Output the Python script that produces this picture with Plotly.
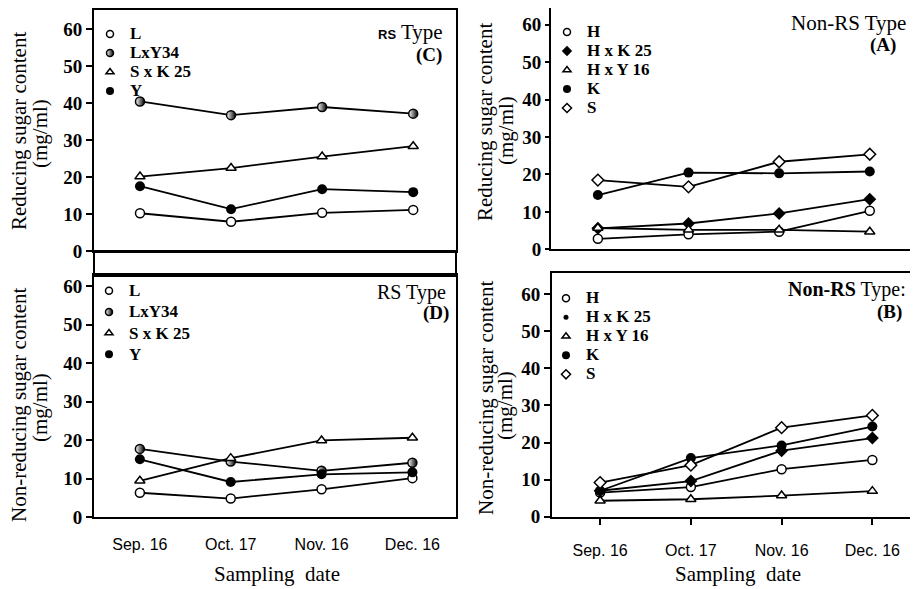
import plotly.graph_objects as go

# the page has an 8px body margin, so the figure is sized to fill the rest of the window
OFF = 8
W, H = 918 - OFF, 589 - OFF

dates = ["Sep. 16", "Oct. 17", "Nov. 16", "Dec. 16"]
y_ticks = [0, 10, 20, 30, 40, 50, 60]

# Panel C: reducing sugar, RS type
c_names = ["L", "LxY34", "S x K 25", "Y"]
c_L = [10.2, 7.9, 10.3, 11.1]
c_LxY34 = [40.4, 36.7, 38.9, 37.1]
c_SxK25 = [20.1, 22.4, 25.5, 28.3]
c_Y = [17.5, 11.3, 16.7, 15.9]

# Panel A: reducing sugar, Non-RS type
a_names = ["H", "H x K 25", "H x Y 16", "K", "S"]
a_H = [2.8, 4.0, 4.7, 10.3]
a_HxK25 = [5.6, 6.9, 9.6, 13.4]
a_HxY16 = [5.7, 5.2, 5.2, 4.7]
a_K = [14.5, 20.5, 20.3, 20.8]
a_S = [18.5, 16.7, 23.4, 25.4]

# Panel D: non-reducing sugar, RS type
d_names = ["L", "LxY34", "S x K 25", "Y"]
d_L = [6.3, 4.8, 7.2, 10.1]
d_LxY34 = [17.7, 14.4, 12.0, 14.1]
d_SxK25 = [9.4, 15.3, 19.9, 20.6]
d_Y = [15.0, 9.1, 11.1, 11.6]

# Panel B: non-reducing sugar, Non-RS type
b_names = ["H", "H x K 25", "H x Y 16", "K", "S"]
b_H = [6.5, 8.0, 12.8, 15.3]
b_HxK25 = [7.0, 9.6, 17.8, 21.2]
b_HxY16 = [4.3, 4.7, 5.7, 6.9]
b_K = [7.0, 15.8, 19.2, 24.3]
b_S = [9.2, 13.9, 24.0, 27.3]

SERIF = "Liberation Serif"
LW = 1.8


def mk(kind, size):
    ln = dict(color="black", width=1.5)
    if kind == "oc":
        return dict(symbol="circle", color="white", size=size, line=ln)
    if kind == "half":
        return dict(symbol="circle", color="white", size=size, line=ln,
                    gradient=dict(type="horizontal", color="black"))
    if kind == "tri":
        return dict(symbol="triangle-up", color="white", size=size, line=ln)
    if kind == "fc":
        return dict(symbol="circle", color="black", size=size + 1, line=dict(color="black", width=0))
    if kind == "fd":
        return dict(symbol="diamond", color="black", size=size + 1, line=dict(color="black", width=0))
    if kind == "od":
        return dict(symbol="diamond", color="white", size=size, line=ln)
    if kind == "dot":
        return dict(symbol="circle", color="black", size=size - 2, line=dict(color="black", width=0))


panels = [
    ("x", "y", "legend", c_names, [c_L, c_LxY34, c_SxK25, c_Y],
     ["oc", "half", "tri", "fc"], ["oc", "half", "tri", "fc"]),
    ("x2", "y2", "legend2", a_names, [a_H, a_HxK25, a_HxY16, a_K, a_S],
     ["oc", "fd", "tri", "fc", "od"], ["oc", "fd", "tri", "fc", "od"]),
    ("x3", "y3", "legend3", d_names, [d_L, d_LxY34, d_SxK25, d_Y],
     ["oc", "half", "tri", "fc"], ["oc", "half", "tri", "fc"]),
    ("x4", "y4", "legend4", b_names, [b_H, b_HxK25, b_HxY16, b_K, b_S],
     ["oc", "fd", "tri", "fc", "od"], ["oc", "dot", "tri", "fc", "od"]),
]

fig = go.Figure()

for xa, ya, lg, names, series, kinds, lkinds in panels:
    for name, vals, kind in zip(names, series, kinds):
        fig.add_trace(go.Scatter(
            x=dates, y=vals, mode="lines+markers", xaxis=xa, yaxis=ya,
            line=dict(color="black", width=LW), marker=mk(kind, 9),
            showlegend=False, name=name))
    for name, lkind in zip(names, lkinds):
        fig.add_trace(go.Scatter(
            x=[None], y=[None], mode="markers", xaxis=xa, yaxis=ya,
            marker=mk(lkind, 7), legend=lg, showlegend=True,
            name='<span style="font-size:17px">%s</span>' % name))


def px(x):
    return (x - OFF) / W


def py(y):
    return 1 - (y - OFF) / H


def yax(dom, rng, ticklen):
    return dict(domain=[py(dom[1]), py(dom[0])], range=rng, tickvals=y_ticks,
                ticks="outside", ticklen=ticklen, tickwidth=1.5, tickcolor="black",
                showline=True, linecolor="black", linewidth=2, mirror=True,
                showgrid=False, zeroline=False, automargin=False,
                tickfont=dict(family=SERIF, size=19, color="black", weight="bold"))


def xax(dom, rng, ticks, labels):
    return dict(domain=[px(dom[0]), px(dom[1])], type="category", range=rng,
                ticks=ticks, ticklen=6, tickwidth=1.5, tickcolor="black",
                showline=True, linecolor="black", linewidth=2, mirror=True,
                showgrid=False, zeroline=False, showticklabels=labels,
                ticklabelstandoff=12, automargin=False,
                tickfont=dict(family="Liberation Sans Narrow, Liberation Sans", size=16, color="black"))


fig.update_layout(
    width=W, height=H, margin=dict(l=0, r=0, t=0, b=0, autoexpand=False),
    paper_bgcolor="white", plot_bgcolor="white",
    xaxis=xax((94, 456), [-0.505, 3.47], "", False),
    yaxis=yax((10, 251), [0, 65.1], 6),
    xaxis2=dict(xax((551, 916), [-0.517, 3.51], "", False), anchor="y2"),
    yaxis2=dict(yax((8, 249.3), [0, 64.5], 4), anchor="x2"),
    xaxis3=dict(xax((94, 456), [-0.505, 3.48], "", True), anchor="y3"),
    yaxis3=dict(yax((275, 517), [0, 62.9], 6), anchor="x3"),
    xaxis4=dict(xax((552, 915), [-0.53, 3.47], "outside", True), anchor="y4"),
    yaxis4=dict(yax((273, 516.7), [0, 65.7], 6), anchor="x4"),
)


def legend(x, top, fs):
    return dict(x=px(x), y=py(top), xanchor="left", yanchor="top",
                bgcolor="rgba(0,0,0,0)", borderwidth=0, traceorder="normal",
                font=dict(family=SERIF, size=fs, color="black", weight="bold"),
                itemwidth=30, tracegroupgap=0)


fig.update_layout(
    legend=legend(90, 34 - 14.5, 12),
    legend2=legend(547, 32 - 14.5, 12.3),
    legend3=legend(89, 290.7 - 15.6, 14),
    legend4=legend(546, 298.3 - 14.5, 12),
)

# strip between panels C and D
fig.add_shape(type="rect", xref="paper", yref="paper",
              x0=px(94), x1=px(456), y0=py(276), y1=py(251),
              line=dict(color="black", width=2), fillcolor="rgba(0,0,0,0)")

ann = []


def text(x, y, s, size=20, anchor="center", angle=0, bold=False, family=SERIF):
    ann.append(dict(x=px(x), y=py(y), xref="paper", yref="paper", text=s,
                    showarrow=False, xanchor=anchor, yanchor="middle",
                    textangle=angle,
                    font=dict(family=family, size=size, color="black",
                              weight="bold" if bold else "normal")))


# y axis titles
text(19, 131, "Reducing sugar content", 21, angle=-90)
text(40, 134, "(mg/ml)", 21, angle=-90)
text(485, 122, "Reducing sugar content", 21, angle=-90)
text(506, 131, "(mg/ml)", 21, angle=-90)
text(19, 405, "Non-reducing sugar content", 21, angle=-90)
text(40, 408, "(mg/ml)", 21, angle=-90)
text(486, 398, "Non-reducing sugar content", 21, angle=-90)
text(505, 405, "(mg/ml)", 21, angle=-90)

# x axis titles
text(277, 574, "Sampling\u00a0 date", 21)
text(738, 574, "Sampling\u00a0 date", 21)

# panel labels
text(445, 32, '<span style="font-family:Liberation Sans;font-size:13px"><b>RS</b></span> Type', 21, anchor="right")
text(444, 55, "(C)", 19, anchor="right", bold=True)
text(908, 23, "Non-RS Type", 21, anchor="right")
text(898, 45, "(A)", 19, anchor="right", bold=True)
text(448, 292, "RS Type", 20, anchor="right")
text(451, 313, "(D)", 19, anchor="right", bold=True)
text(908, 289, "<b>Non-RS</b> Type:", 20, anchor="right")
text(904, 312, "(B)", 19, anchor="right", bold=True)

fig.update_layout(annotations=ann)

fig.write_html("out.html")
